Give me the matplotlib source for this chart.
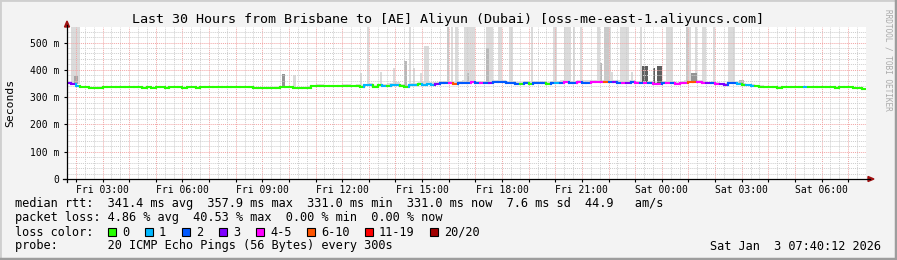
import numpy as np
import pandas as pd
import matplotlib
matplotlib.use("Agg")
import matplotlib.pyplot as plt
import matplotlib.dates as mdates
from matplotlib.ticker import FuncFormatter, MultipleLocator
from matplotlib.collections import LineCollection
from matplotlib.patches import Rectangle, Polygon
from matplotlib.lines import Line2D

W, H = 897, 260
MONO = "DejaVu Sans Mono"

start = pd.Timestamp("2026-01-02 01:40")
end = pd.Timestamp("2026-01-03 07:40")
step = pd.Timedelta(minutes=10)

# median rtt (ms), one value per 10 minutes, one row = 3 hours
median_ms = [
    351, 349, 340, 336, 336, 334, 333, 335, 336, 336, 336, 336, 336, 336, 336, 336, 336, 335,
    336, 335, 336, 336, 334, 336, 336, 336, 335, 336, 336, 334, 336, 336, 336, 336, 336, 336,
    336, 336, 336, 336, 336, 336, 334, 333, 333, 333, 333, 333, 336, 337, 337, 334, 333, 333,
    333, 340, 341, 341, 340, 340, 339, 339, 341, 342, 340, 341, 338, 343, 345, 338, 343, 342,
    342, 344, 346, 339, 338, 344, 345, 347, 346, 347, 346, 349, 351, 352, 350, 348, 352, 353,
    352, 354, 351, 350, 350, 352, 354, 354, 354, 352, 350, 349, 347, 350, 349, 351, 350, 351,
    347, 350, 352, 353, 354, 352, 352, 355, 353, 353, 355, 356, 355, 357, 354, 354, 353, 352,
    353, 354, 352, 352, 353, 351, 349, 348, 352, 353, 351, 349, 350, 353, 356, 357, 354, 352,
    350, 352, 349, 347, 346, 350, 350, 349, 346, 343, 342, 339, 337, 336, 336, 336, 335, 336,
    337, 336, 336, 336, 337, 338, 336, 336, 337, 336, 336, 335, 336, 336, 336, 335, 334, 331,
]

# lost pings (of 20) for the same 10 minute steps
loss_pings = [
    3, 3, 1, 0, 0, 0, 0, 0, 0, 0, 0, 0, 0, 0, 0, 0, 0, 0,
    0, 0, 0, 0, 0, 0, 0, 0, 0, 0, 0, 0, 0, 0, 0, 0, 0, 0,
    0, 0, 0, 0, 0, 0, 0, 0, 0, 0, 0, 0, 0, 0, 0, 0, 0, 0,
    0, 0, 0, 0, 0, 0, 0, 0, 0, 0, 0, 0, 0, 1, 1, 0, 0, 1,
    0, 1, 1, 0, 0, 1, 1, 0, 1, 1, 1, 3, 2, 2, 4, 7, 2, 2,
    2, 4, 2, 4, 2, 3, 2, 2, 2, 2, 2, 2, 0, 2, 0, 2, 2, 2,
    0, 2, 1, 2, 4, 2, 2, 4, 2, 2, 4, 4, 4, 7, 2, 3, 2, 4,
    3, 2, 4, 2, 4, 2, 4, 4, 2, 4, 2, 4, 4, 4, 7, 7, 4, 4,
    3, 2, 4, 3, 3, 2, 2, 1, 0, 1, 1, 0, 0, 0, 0, 0, 0, 0,
    0, 0, 0, 0, 1, 0, 0, 0, 0, 0, 0, 0, 0, 0, 0, 0, 0, 0,
]

# spread of the smoke above the median (ms), per 3 hours
smoke_spread = [3, 3, 3, 6, 8, 8, 8, 8, 6, 3]

# outlier smoke columns
spike_start = [
    "2026-01-02 01:50", "2026-01-02 01:55", "2026-01-02 09:45", "2026-01-02 10:10",
    "2026-01-02 12:40", "2026-01-02 12:55", "2026-01-02 13:25", "2026-01-02 13:55",
    "2026-01-02 14:20", "2026-01-02 14:30", "2026-01-02 14:40", "2026-01-02 14:55",
    "2026-01-02 15:05", "2026-01-02 15:55", "2026-01-02 16:05", "2026-01-02 16:15",
    "2026-01-02 16:35", "2026-01-02 16:40", "2026-01-02 17:25", "2026-01-02 17:25",
    "2026-01-02 17:50", "2026-01-02 18:15", "2026-01-02 19:05", "2026-01-02 19:55",
    "2026-01-02 20:20", "2026-01-02 20:40", "2026-01-02 20:55", "2026-01-02 21:35",
    "2026-01-02 21:40", "2026-01-02 21:50", "2026-01-02 21:50", "2026-01-02 22:05",
    "2026-01-02 22:25", "2026-01-02 22:50", "2026-01-02 23:10", "2026-01-02 23:15",
    "2026-01-02 23:40", "2026-01-02 23:50", "2026-01-03 00:10", "2026-01-03 00:55",
    "2026-01-03 00:55", "2026-01-03 01:05", "2026-01-03 01:15", "2026-01-03 01:30",
    "2026-01-03 01:55", "2026-01-03 02:30", "2026-01-03 02:55",
]
spike_minutes = [
    20, 10, 5, 5,
    5, 5, 5, 5,
    5, 5, 5, 5,
    10, 5, 5, 5,
    25, 5, 15, 5,
    10, 10, 5, 10,
    15, 5, 5, 5,
    5, 15, 10, 5,
    20, 5, 5, 15,
    5, 10, 15, 10,
    5, 15, 5, 10,
    5, 15, 10,
]
spike_top = [
    600, 378, 385, 380,
    388, 600, 392, 406,
    432, 600, 406, 388,
    487, 600, 600, 600,
    600, 388, 600, 480,
    600, 600, 600, 600,
    600, 600, 600, 600,
    425, 600, 600, 392,
    600, 392, 600, 414,
    406, 414, 600, 600,
    600, 388, 600, 600,
    600, 600, 362,
]
spike_pings = [
    1, 4, 5, 1,
    1, 1, 1, 1,
    3, 1, 1, 1,
    1, 2, 1, 1,
    1, 3, 1, 3,
    1, 1, 1, 1,
    1, 1, 1, 1,
    3, 1, 2, 1,
    1, 1, 1, 8,
    8, 8, 1, 1,
    2, 5, 1, 1,
    1, 1, 3,
]

loss_labels = ["0", "1", "2", "3", "4-5", "6-10", "11-19", "20/20"]
loss_colors = ["#26ff00", "#00b8ff", "#0059ff", "#7e00ff",
               "#ff00ff", "#ff5500", "#ff0000", "#a10000"]
loss_upper = [0, 1, 2, 3, 5, 10, 19, 20]


def fx(x):
    return x / W


def fy(y):
    return 1 - y / H


def loss_color(n):
    for upper, col in zip(loss_upper, loss_colors):
        if n <= upper:
            return col
    return loss_colors[-1]


times = [start + step * i for i in range(len(median_ms) + 1)]
tn = mdates.date2num([t.to_pydatetime() for t in times])
med = np.array(median_ms, dtype=float)

fig = plt.figure(figsize=(W / 100, H / 100), dpi=100, facecolor="#f3f3f3")
ax = fig.add_axes([fx(67), fy(179), fx(866) - fx(67), fy(27) - fy(179)])
ax.set_facecolor("white")

# smoke band around the median
spread = np.repeat(smoke_spread, 18).astype(float)
ax.fill_between(tn, np.append(med - 3, med[-1] - 3), np.append(med + spread, med[-1] + spread[-1]),
                step="post", color="#dcdcdc", lw=0, zorder=1)

# outlier smoke columns, light ones first
order = np.argsort(spike_pings, kind="stable")
for k in order:
    t0 = pd.Timestamp(spike_start[k])
    idx = int((t0 - start) / step)
    base = median_ms[idx] - 2
    grey = max(0.36, 0.86 - 0.07 * (spike_pings[k] - 1))
    ax.bar(mdates.date2num(t0.to_pydatetime()), spike_top[k] - base, bottom=base,
           width=spike_minutes[k] / 1440.0, align="edge", color=str(grey), lw=0, zorder=1.5)

# median line coloured by packet loss
segs, cols = [], []
for i in range(len(med)):
    c = loss_color(loss_pings[i])
    segs.append([(tn[i], med[i]), (tn[i + 1], med[i])])
    cols.append(c)
    if i > 0 and med[i] != med[i - 1]:
        segs.append([(tn[i], med[i - 1]), (tn[i], med[i])])
        cols.append(c)
ax.add_collection(LineCollection(segs, colors=cols, linewidths=1.5, capstyle="projecting", zorder=3))

ax.set_xlim(tn[0], tn[-1])
ax.set_ylim(0, 557)

# grid
ax.xaxis.set_major_locator(mdates.HourLocator(interval=1))
ax.xaxis.set_minor_locator(mdates.MinuteLocator(byminute=[20, 40]))
ax.xaxis.set_major_formatter(FuncFormatter(
    lambda v, p: mdates.num2date(v).strftime("%a %H:%M") if mdates.num2date(v).hour % 3 == 0 else ""))
ax.yaxis.set_major_locator(MultipleLocator(100))
ax.yaxis.set_minor_locator(MultipleLocator(20))
ax.yaxis.set_major_formatter(FuncFormatter(lambda v, p: "0" if v == 0 else f"{int(v)} m"))
ax.grid(which="minor", color="#cdcdcd", lw=0.7, ls=(0, (1, 1)), zorder=2.5)
ax.grid(which="major", color="#f2a4a4", lw=0.7, ls=(0, (1, 1)), zorder=2.6)
ax.set_axisbelow(False)

ax.tick_params(which="major", length=2.5, width=0.8, color="black", direction="out",
               labelsize=7, pad=1.5)
ax.tick_params(which="minor", length=0)
for lab in ax.get_xticklabels() + ax.get_yticklabels():
    lab.set_family(MONO)
ax.tick_params(axis="y", pad=3)
for s in ax.spines.values():
    s.set_visible(False)

# axes with arrows
fig.add_artist(Line2D([fx(67), fx(67)], [fy(182), fy(25)], color="black", lw=0.9))
fig.add_artist(Line2D([fx(63), fx(870)], [fy(179), fy(179)], color="black", lw=0.9))
fig.add_artist(Polygon([(fx(64.5), fy(27)), (fx(69.5), fy(27)), (fx(67), fy(21))],
                       closed=True, color="#a01010", transform=fig.transFigure))
fig.add_artist(Polygon([(fx(868), fy(176.5)), (fx(868), fy(181.5)), (fx(874), fy(179))],
                       closed=True, color="#a01010", transform=fig.transFigure))

# titles
fig.text(fx(448), fy(19), "Last 30 Hours from Brisbane to [AE] Aliyun (Dubai) [oss-me-east-1.aliyuncs.com]",
         ha="center", va="center", fontsize=9.6, family=MONO)
fig.text(fx(10), fy(103), "Seconds", rotation=90, ha="center", va="center", fontsize=8.2, family=MONO)
fig.text(fx(888), fy(60), "RRDTOOL / TOBI OETIKER", rotation=270, ha="center", va="center",
         fontsize=5.6, family=MONO, color="#aaaaaa")

# legend, monospace lines
fs = 8.52
legend_lines = [
    (204, "median rtt:  341.4 ms avg  357.9 ms max  331.0 ms min  331.0 ms now  7.6 ms sd  44.9   am/s"),
    (218, "packet loss: 4.86 % avg  40.53 % max  0.00 % min  0.00 % now"),
    (232, "loss color:"),
    (246, "probe:       20 ICMP Echo Pings (56 Bytes) every 300s"),
]
for y, s in legend_lines:
    fig.text(fx(14.5), fy(y), s, ha="left", va="center", fontsize=fs, family=MONO)

label_x = [123, 160, 197, 234, 271, 322, 380, 445]
for lx, lab, col in zip(label_x, loss_labels, loss_colors):
    fig.add_artist(Rectangle((fx(lx - 15), fy(236)), fx(8), fy(228) - fy(236), facecolor=col,
                             edgecolor="black", lw=0.8, transform=fig.transFigure))
    fig.text(fx(lx - 1), fy(232), lab, ha="left", va="center", fontsize=fs, family=MONO)

fig.text(fx(881), fy(246), "Sat Jan  3 07:40:12 2026", ha="right", va="center", fontsize=fs, family=MONO)

# frame
fig.add_artist(Line2D([0, 0, 1], [0, 1, 1], color="#cfcfcf", lw=2.0, transform=fig.transFigure))
fig.add_artist(Line2D([0, 1, 1], [fy(258.5), fy(258.5), 1], color="#9d9d9d", lw=2.5,
                      transform=fig.transFigure))
fig.add_artist(Line2D([fx(895.5), fx(895.5)], [0, 1], color="#9d9d9d", lw=2.5, transform=fig.transFigure))

fig.savefig("out.png", dpi=100, facecolor=fig.get_facecolor())
